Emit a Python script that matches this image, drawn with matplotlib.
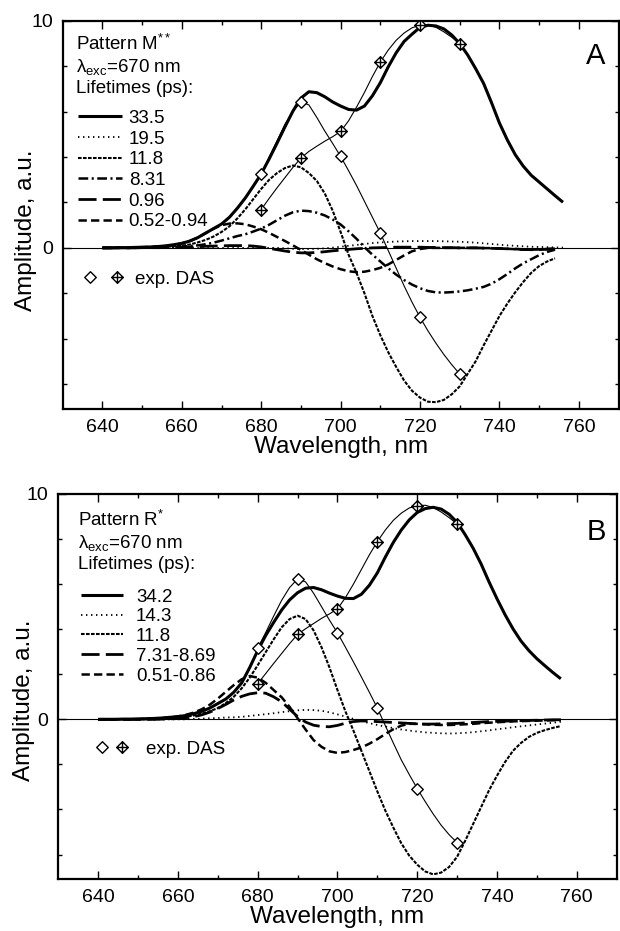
import matplotlib
matplotlib.use('Agg')
import matplotlib.pyplot as plt
import numpy as np
from matplotlib.path import Path
from matplotlib.legend_handler import HandlerTuple

plt.rcParams['font.family'] = ['Liberation Sans', 'DejaVu Sans']
plt.rcParams['mathtext.fontset'] = 'custom'
plt.rcParams['mathtext.rm'] = 'Liberation Sans'
plt.rcParams['mathtext.it'] = 'Liberation Sans:italic'
plt.rcParams['mathtext.default'] = 'regular'
plt.rcParams['lines.scale_dashes'] = False

nan = np.nan
# sampling grid of the decomposed spectra, nm
wl = np.arange(640, 757, 2)
# wavelengths of the measured DAS points and of their thin fit lines
das_wl = [680, 690, 700, 710, 720, 730]
fit_wl = np.arange(680, 731, 2)

# ---- panel A: pattern M** ----
A_335 = [0.0, 0.0, 0.01, 0.01, 0.02, 0.03, 0.04, 0.06, 0.09, 0.14,
         0.2, 0.3, 0.45, 0.65, 0.85, 1.05, 1.35, 1.75, 2.2, 2.72,
         3.26, 3.92, 4.62, 5.34, 6.03, 6.6, 6.88, 6.84, 6.66, 6.43,
         6.25, 6.1, 6.07, 6.25, 6.7, 7.28, 7.98, 8.6, 9.1, 9.42,
         9.72, 9.81, 9.78, 9.65, 9.38, 9.0, 8.5, 7.9, 7.25, 6.4,
         5.5, 4.75, 4.1, 3.6, 3.2, 2.9, 2.6, 2.3, 2.01]
A_195 = [0, 0, 0, 0, 0, 0, 0, 0, 0, 0,
         0, 0, 0, 0, 0, 0, 0, 0, 0, 0,
         0, 0, 0, -0.02, -0.04, -0.05, -0.05, -0.04, -0.02, 0.01,
         0.05, 0.09, 0.13, 0.17, 0.21, 0.24, 0.26, 0.28, 0.29, 0.3,
         0.3, 0.3, 0.3, 0.29, 0.28, 0.27, 0.25, 0.23, 0.2, 0.17,
         0.14, 0.11, 0.09, 0.07, 0.05, 0.04, 0.03, 0.02, 0.01]
A_118 = [0, 0, 0, 0, 0.01, 0.01, 0.02, 0.03, 0.05, 0.07,
         0.1, 0.15, 0.24, 0.35, 0.5, 0.7, 0.95, 1.3, 1.7, 2.15,
         2.6, 3.0, 3.3, 3.52, 3.63, 3.55, 3.3, 2.95, 2.4, 1.64,
         0.7, -0.3, -1.1, -2.0, -3.0, -3.85, -4.6, -5.25, -5.85, -6.3,
         -6.6, -6.78, -6.8, -6.7, -6.45, -6.1, -5.55, -5.0, -4.3, -3.65,
         -3.0, -2.45, -1.95, -1.5, -1.1, -0.8, -0.6, -0.46, nan]
A_831 = [0, 0, 0, 0, 0, 0.01, 0.01, 0.02, 0.02, 0.03,
         0.05, 0.08, 0.11, 0.16, 0.23, 0.32, 0.42, 0.52, 0.6, 0.72,
         0.85, 1.02, 1.22, 1.42, 1.57, 1.64, 1.62, 1.55, 1.43, 1.25,
         1.03, 0.73, 0.4, 0.03, -0.3, -0.6, -0.9, -1.18, -1.42, -1.62,
         -1.78, -1.9, -1.96, -1.97, -1.95, -1.92, -1.87, -1.8, -1.72, -1.58,
         -1.38, -1.15, -0.9, -0.68, -0.5, -0.32, -0.18, -0.08, nan]
A_096 = [0, 0, 0, 0, 0, 0.01, 0.01, 0.01, 0.02, 0.02,
         0.03, 0.04, 0.05, 0.07, 0.08, 0.09, 0.1, 0.1, 0.1, 0.08,
         0.04, -0.02, -0.08, -0.14, -0.19, -0.22, -0.22, -0.2, -0.17, -0.13,
         -0.1, -0.07, -0.04, -0.02, 0.0, 0.01, 0.02, 0.03, 0.03, 0.03,
         0.03, 0.02, 0.02, 0.01, 0.01, 0.0, 0.0, 0.0, -0.01, -0.02,
         -0.03, -0.04, -0.05, -0.07, -0.08, -0.08, -0.06, -0.04, nan]
A_052 = [0, 0, 0.01, 0.01, 0.02, 0.03, 0.04, 0.06, 0.08, 0.12,
         0.2, 0.3, 0.45, 0.65, 0.85, 1.0, 1.07, 1.08, 1.04, 0.94,
         0.82, 0.66, 0.48, 0.3, 0.11, -0.09, -0.3, -0.5, -0.67, -0.82,
         -0.94, -1.03, -1.07, -1.05, -0.98, -0.88, -0.73, -0.53, -0.33, -0.15,
         -0.05, 0.0, 0.0, 0.0, 0.0, 0.0, 0.0, 0.0, -0.01, -0.01,
         -0.02, -0.04, -0.06, -0.08, -0.08, -0.07, -0.05, -0.03, nan]
A_labels = ['33.5', '19.5', '11.8', '8.31', '0.96', '0.52-0.94']
A_open = [3.26, 6.43, 4.03, 0.65, -3.06, -5.56]
A_cross = [1.69, 3.96, 5.13, 8.19, 9.81, 9.0]
A_open_fit = [3.26, 4.0, 4.72, 5.45, 6.02, 6.43, 6.3, 5.75, 5.15, 4.6,
              4.03, 3.4, 2.75, 2.05, 1.35, 0.65, -0.12, -0.9, -1.68, -2.4,
              -3.06, -3.66, -4.2, -4.7, -5.15, -5.56]
A_cross_fit = [1.69, 2.18, 2.65, 3.1, 3.55, 3.96, 4.25, 4.48, 4.7, 4.9,
               5.13, 5.6, 6.2, 6.85, 7.55, 8.19, 8.72, 9.15, 9.47, 9.7,
               9.81, 9.82, 9.72, 9.52, 9.28, 9.0]

# ---- panel B: pattern R* ----
B_342 = [0, 0, 0, 0.01, 0.01, 0.02, 0.03, 0.04, 0.06, 0.09,
         0.12, 0.17, 0.25, 0.36, 0.5, 0.7, 0.9, 1.2, 1.62, 2.3,
         3.05, 3.72, 4.3, 4.85, 5.3, 5.62, 5.82, 5.85, 5.75, 5.6,
         5.47, 5.37, 5.36, 5.55, 5.95, 6.5, 7.2, 7.85, 8.4, 8.85,
         9.18, 9.35, 9.41, 9.33, 9.1, 8.74, 8.2, 7.6, 6.9, 6.1,
         5.35, 4.65, 4.02, 3.48, 3.05, 2.69, 2.38, 2.08, 1.8]
B_143 = [0, 0, 0, 0, 0, 0, 0, 0, 0, 0,
         0, 0, 0.02, 0.03, 0.05, 0.06, 0.08, 0.09, 0.11, 0.15,
         0.19, 0.23, 0.27, 0.32, 0.36, 0.4, 0.42, 0.41, 0.38, 0.31,
         0.22, 0.12, 0.02, -0.08, -0.17, -0.25, -0.32, -0.39, -0.45, -0.5,
         -0.54, -0.58, -0.6, -0.62, -0.63, -0.62, -0.6, -0.57, -0.53, -0.49,
         -0.44, -0.4, -0.35, -0.31, -0.27, -0.23, -0.19, -0.15, -0.11]
B_118 = [0, 0, 0, 0, 0, 0, 0, 0, 0.02, 0.04,
         0.07, 0.11, 0.17, 0.25, 0.36, 0.5, 0.72, 1.0, 1.38, 1.85,
         2.4, 2.98, 3.55, 4.08, 4.45, 4.6, 4.45, 3.95, 3.2, 2.3,
         1.3, 0.35, -0.5, -1.4, -2.3, -3.2, -4.05, -4.8, -5.5, -6.05,
         -6.45, -6.75, -6.88, -6.8, -6.55, -6.1, -5.4, -4.65, -3.9, -3.15,
         -2.5, -1.9, -1.4, -1.05, -0.78, -0.6, -0.48, -0.38, -0.3]
B_731 = [0, 0, 0, 0, 0, 0, 0, 0, 0.01, 0.02,
         0.04, 0.07, 0.12, 0.2, 0.32, 0.48, 0.66, 0.86, 1.02, 1.13,
         1.18, 1.16, 1.0, 0.78, 0.45, 0.12, -0.12, -0.26, -0.32, -0.33,
         -0.27, -0.17, -0.1, -0.07, -0.08, -0.1, -0.12, -0.14, -0.16, -0.18,
         -0.2, -0.21, -0.21, -0.2, -0.19, -0.18, -0.16, -0.14, -0.12, -0.1,
         -0.09, -0.08, -0.07, -0.06, -0.05, -0.04, -0.03, -0.02, -0.02]
B_051 = [0, 0, 0, 0, 0, 0, 0.02, 0.03, 0.05, 0.08,
         0.13, 0.2, 0.3, 0.45, 0.65, 0.92, 1.22, 1.52, 1.78, 1.92,
         1.85, 1.62, 1.3, 0.98, 0.55, 0.05, -0.45, -0.92, -1.22, -1.42,
         -1.49, -1.45, -1.36, -1.25, -1.08, -0.88, -0.65, -0.44, -0.28, -0.2,
         -0.2, -0.22, -0.24, -0.25, -0.25, -0.24, -0.22, -0.2, -0.17, -0.15,
         -0.13, -0.11, -0.09, -0.08, -0.07, -0.06, -0.05, -0.04, -0.03]
B_labels = ['34.2', '14.3', '11.8', '7.31-8.69', '0.51-0.86']
B_open = [3.16, 6.23, 3.84, 0.5, -3.07, -5.47]
B_cross = [1.58, 3.77, 4.9, 7.89, 9.48, 8.67]
B_open_fit = [3.16, 3.85, 4.58, 5.28, 5.85, 6.23, 6.1, 5.6, 5.0, 4.4,
              3.84, 3.2, 2.55, 1.88, 1.2, 0.5, -0.28, -1.05, -1.8, -2.45,
              -3.07, -3.65, -4.2, -4.7, -5.12, -5.47]
B_cross_fit = [1.58, 2.03, 2.48, 2.92, 3.36, 3.77, 4.02, 4.25, 4.48, 4.68,
               4.9, 5.4, 6.0, 6.65, 7.3, 7.89, 8.4, 8.83, 9.15, 9.38,
               9.48, 9.5, 9.4, 9.2, 8.95, 8.67]

# line styles
SOLID = dict(lw=2.2)
DOTTED = dict(lw=1.3, dashes=(1.0, 2.6))
FINE = dict(lw=1.5, dashes=(2.6, 1.0))
DASHDOT = dict(lw=1.8, dashes=(7, 2.5, 1.5, 2.5))
LONG = dict(lw=2.0, dashes=(13, 4.5))
DASHED = dict(lw=1.8, dashes=(6, 3))

# diamond markers (plain and with a cross inside)
diamond = Path([(0, 1), (1, 0), (0, -1), (-1, 0), (0, 1)],
               [Path.MOVETO, Path.LINETO, Path.LINETO, Path.LINETO, Path.CLOSEPOLY])
cross_diamond = Path([(0, 1), (1, 0), (0, -1), (-1, 0), (0, 1),
                      (0, 1), (0, -1), (-1, 0), (1, 0)],
                     [Path.MOVETO, Path.LINETO, Path.LINETO, Path.LINETO, Path.CLOSEPOLY,
                      Path.MOVETO, Path.LINETO, Path.MOVETO, Path.LINETO])
MK = dict(ls='none', ms=8.3, mfc='white', mec='black', mew=1.0, zorder=5)

FS = 13.5


def draw_panel(ax, curves, styles, labels, opn, crs, opn_fit, crs_fit,
               header, letter, hdr_xy, leg_xy, leg_kw, das_xy, das_kw, letter_xy):
    ax.axhline(0, color='black', lw=0.8, zorder=1)
    handles = []
    for y, st, lab in zip(curves, styles, labels):
        ln, = ax.plot(wl, y, color='black', label=lab, solid_capstyle='butt',
                      dash_capstyle='butt', **st)
        handles.append(ln)
    ax.plot(fit_wl, opn_fit, color='black', lw=0.8, zorder=4)
    ax.plot(fit_wl, crs_fit, color='black', lw=0.8, zorder=4)
    h_open, = ax.plot(das_wl, opn, marker=diamond, **MK)
    h_cross, = ax.plot(das_wl, crs, marker=cross_diamond, **MK)

    ax.set_xlim(630, 770)
    ax.set_ylim(-7.1, 10)
    ax.set_xticks(np.arange(640, 761, 20))
    ax.set_xticks(np.arange(650, 770, 20), minor=True)
    ax.set_yticks([0, 10])
    ax.set_yticks([-6, -4, -2, 2, 4, 6, 8], minor=True)
    ax.tick_params(which='both', direction='in', top=True, right=True,
                   labelsize=14, width=1.0)
    ax.tick_params(which='major', length=6, pad=7)
    ax.tick_params(which='minor', length=3)
    for sp in ax.spines.values():
        sp.set_linewidth(1.6)

    ax.set_xlabel('Wavelength, nm', fontsize=17.5, labelpad=0)
    ax.set_ylabel('Amplitude, a.u.', fontsize=17.5)

    ax.text(hdr_xy[0], hdr_xy[1], header, transform=ax.transAxes, fontsize=FS,
            va='top', ha='left', linespacing=1.2)
    ax.text(letter_xy[0], letter_xy[1], letter, transform=ax.transAxes,
            fontsize=21, ha='center', va='center')

    leg = ax.legend(handles=handles, loc='upper left', bbox_to_anchor=leg_xy,
                    frameon=False, fontsize=FS, borderpad=0, borderaxespad=0,
                    **leg_kw)
    ax.add_artist(leg)
    ax.legend(handles=[(h_open, h_cross)], labels=['exp. DAS'], loc='upper left',
              bbox_to_anchor=das_xy, frameon=False, fontsize=FS, borderpad=0,
              borderaxespad=0, numpoints=1,
              handler_map={tuple: HandlerTuple(ndivide=None, pad=0)}, **das_kw)


fig = plt.figure(figsize=(6.2, 9.31), dpi=100)
axA = fig.add_axes([0.1011, 0.5607, 0.8966, 0.4168])
axB = fig.add_axes([0.0940, 0.0555, 0.9006, 0.4139])

draw_panel(axA, [A_335, A_195, A_118, A_831, A_096, A_052],
           [SOLID, DOTTED, FINE, DASHDOT, LONG, DASHED], A_labels,
           A_open, A_cross, A_open_fit, A_cross_fit,
           'Pattern M$^{**}$\n$\\lambda_{exc}$=670 nm\nLifetimes (ps):', 'A',
           hdr_xy=(0.024, 0.966), leg_xy=(0.0274, 0.771),
           leg_kw=dict(handlelength=2.35, handletextpad=0.36, labelspacing=0.19),
           das_xy=(0.025, 0.357), das_kw=dict(handlelength=2.85, handletextpad=0.26),
           letter_xy=(0.958, 0.91))

draw_panel(axB, [B_342, B_143, B_118, B_731, B_051],
           [SOLID, DOTTED, FINE, LONG, DASHED], B_labels,
           B_open, B_cross, B_open_fit, B_cross_fit,
           'Pattern R$^{*}$\n$\\lambda_{exc}$=670 nm\nLifetimes (ps):', 'B',
           hdr_xy=(0.036, 0.958), leg_xy=(0.040, 0.755),
           leg_kw=dict(handlelength=2.27, handletextpad=0.68, labelspacing=0.14),
           das_xy=(0.0598, 0.36), das_kw=dict(handlelength=2.13, handletextpad=0.76),
           letter_xy=(0.963, 0.901))

axA.yaxis.set_label_coords(-0.047, 0.46)
axB.yaxis.set_label_coords(-0.041, 0.465)

fig.savefig('out.png', dpi=100)
